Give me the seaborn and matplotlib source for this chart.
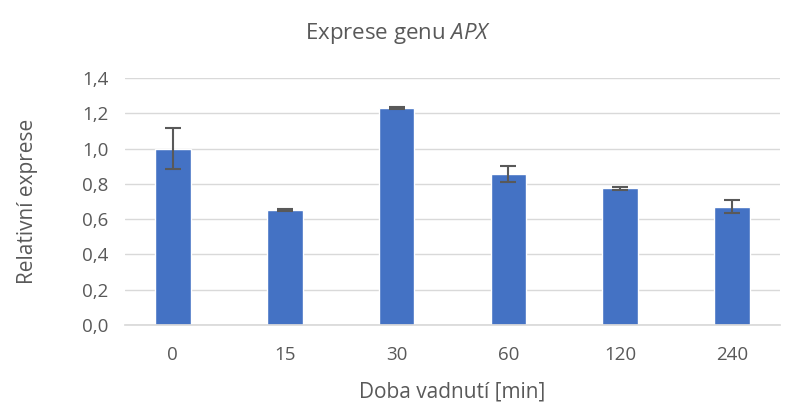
import pandas as pd
import seaborn as sns
import matplotlib.pyplot as plt

# Data
casy = ["0", "15", "30", "60", "120", "240"]
exprese = [1.00, 0.65, 1.23, 0.855, 0.775, 0.67]
chyba = [0.115, 0.005, 0.004, 0.045, 0.008, 0.038]

df = pd.DataFrame({"cas": casy, "exprese": exprese, "chyba": chyba})

sns.set_theme(style="white")
plt.rcParams["font.family"] = ["Open Sans", "DejaVu Sans"]
plt.rcParams["mathtext.fontset"] = "custom"
plt.rcParams["mathtext.it"] = "Open Sans:italic"

seda = "#595959"
fig = plt.figure(figsize=(7.97, 4.05), dpi=100)
ax = fig.add_axes([125 / 797, 1 - 325 / 405, 655 / 797, 247 / 405])

sns.barplot(data=df, x="cas", y="exprese", color="#4472C4", width=0.32,
            saturation=1, errorbar=None, ax=ax, zorder=2)
ax.errorbar(range(len(casy)), df["exprese"], yerr=df["chyba"], fmt="none",
            ecolor=seda, elinewidth=1.5, capsize=6, capthick=1.5, zorder=3)

ax.set_ylim(0, 1.4)
ax.set_yticks([i * 0.2 for i in range(8)])
ax.set_yticklabels([f"{i * 0.2:.1f}".replace(".", ",") for i in range(8)])
ax.yaxis.grid(True, color="#D9D9D9", linewidth=1)
ax.set_axisbelow(True)
for s in ["top", "right", "left"]:
    ax.spines[s].set_visible(False)
ax.spines["bottom"].set_color("#D9D9D9")
ax.tick_params(axis="y", length=0, labelsize=13.5, colors=seda, pad=12)
ax.tick_params(axis="x", length=0, labelsize=13.5, colors=seda, pad=15)

ax.set_xlabel("Doba vadnutí [min]", fontsize=15, color=seda, labelpad=13)
ax.set_ylabel("Relativní exprese", fontsize=15, color=seda, labelpad=32)
fig.text(0.5, 1 - 33 / 405, "Exprese genu $\\mathit{APX}$", ha="center",
         va="center", fontsize=16, color=seda)

plt.savefig("out.png", dpi=100)
